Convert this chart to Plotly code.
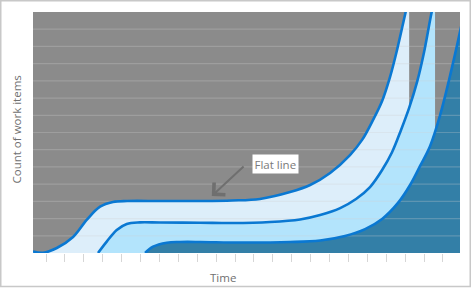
import plotly.graph_objects as go

# Time periods (x) and work-item counts (y) for the three cumulative bands
top_x = [-0.69, -0.16, 0.57, 1.43, 2.15, 2.86, 3.54, 4.29, 6.03, 8.15, 9.84, 11.32,
         12.91, 13.97, 15.03, 16.08, 16.72, 17.30, 17.78, 18.20, 18.57, 18.99, 19.21]
top_y = [0.09, 0.01, 0.29, 0.93, 1.92, 2.69, 2.96, 3.02, 3.02, 3.02, 3.05, 3.14,
         3.54, 3.95, 4.65, 5.69, 6.57, 7.73, 8.83, 10.23, 11.80, 13.83, 14.88]

mid_x = [2.75, 3.21, 3.74, 4.27, 4.97, 6.03, 8.15, 9.84, 11.85, 13.44, 14.50, 15.56,
         16.40, 17.14, 17.78, 18.31, 18.78, 19.21, 19.63, 20.00, 20.37, 20.58]
mid_y = [0.0, 0.66, 1.34, 1.69, 1.78, 1.77, 1.76, 1.74, 1.80, 1.95, 2.21, 2.61,
         3.14, 3.83, 4.82, 5.87, 7.15, 8.43, 9.94, 11.68, 13.83, 14.88]

low_x = [5.24, 5.66, 6.39, 7.09, 8.15, 10.26, 12.91, 14.50, 15.82, 16.88, 17.78, 18.62,
         19.26, 19.79, 20.32, 20.85, 21.32, 21.75, 22.06]
low_y = [0.0, 0.37, 0.60, 0.64, 0.64, 0.61, 0.64, 0.73, 0.99, 1.39, 1.98, 2.91,
         3.95, 5.06, 6.22, 8.02, 10.05, 12.09, 13.65]

x_range = [-0.69, 21.9]
y_range = [0, 14]
tick_positions = list(range(0, 22))
grid_levels = list(range(1, 14))

LINE = "#0a78d2"
fills = ["#ddeefa", "#b3e4fc", "#337fa7"]
SPLINE = dict(shape="spline", smoothing=1.0)

fig = go.Figure()

# stacked band fills, each painted down to the baseline
for xs, ys, col in [(top_x, top_y, fills[0]), (mid_x, mid_y, fills[1]), (low_x, low_y, fills[2])]:
    fig.add_trace(go.Scatter(x=xs, y=ys, mode="lines", line=dict(width=0, **SPLINE),
                             fill="tozeroy", fillcolor=col, hoverinfo="skip", showlegend=False))

# horizontal grid drawn over the bands
gx, gy = [], []
for g in grid_levels:
    gx += [x_range[0], x_range[1], None]
    gy += [g, g, None]
fig.add_trace(go.Scatter(x=gx, y=gy, mode="lines", line=dict(color="rgba(210,210,210,0.28)", width=1.2),
                         hoverinfo="skip", showlegend=False))

# band outlines
for xs, ys in [(top_x, top_y), (mid_x, mid_y), (low_x, low_y)]:
    fig.add_trace(go.Scatter(x=xs, y=ys, mode="lines",
                             line=dict(color=LINE, width=2.6, **SPLINE),
                             hoverinfo="skip", showlegend=False))

FONT = "Open Sans, Noto Sans, sans-serif"
TXT = "#707070"

fig.update_layout(
    width=472, height=288,
    margin=dict(l=33, r=12, t=12, b=35),
    paper_bgcolor="white", plot_bgcolor="#8b8b8b",
    font=dict(family=FONT, size=11.5, color=TXT),
    xaxis=dict(range=x_range, tickvals=tick_positions, showticklabels=False, ticks="outside",
               ticklen=8, tickwidth=1, tickcolor="#d6d6d6", showgrid=False, zeroline=False,
               showline=False, fixedrange=True),
    yaxis=dict(range=y_range, showticklabels=False, showgrid=False, zeroline=False,
               showline=False, ticks="", fixedrange=True),
    annotations=[
        dict(text="Time", xref="paper", yref="paper", x=(223 - 33) / 427, y=(253 - 277) / 241,
             xanchor="center", yanchor="middle", showarrow=False, font=dict(size=11.5, color=TXT)),
        dict(text="Count of work items", xref="paper", yref="paper", x=(16 - 33) / 427,
             y=(253 - 129.5) / 241, xanchor="center", yanchor="middle", textangle=-90,
             showarrow=False, font=dict(size=11.5, color=TXT)),
        dict(text="Flat line", xref="x", yref="y", x=12.12, y=5.17, xanchor="center",
             yanchor="middle", showarrow=False, bgcolor="white", borderpad=1.5,
             font=dict(size=11.5, color="#7a7a7a")),
        dict(text="", xref="x", yref="y", x=8.77, y=3.31, axref="x", ayref="y",
             ax=10.53, ay=5.11, showarrow=True, arrowhead=4, arrowsize=1.6, arrowwidth=2,
             arrowcolor="#6f6f6f"),
    ],
    shapes=[
        dict(type="rect", xref="paper", yref="paper", x0=(0.75 - 33) / 427, x1=(470.25 - 33) / 427,
             y0=(253 - 286.5) / 241, y1=(253 - 0.75) / 241, line=dict(color="#c8c8c8", width=1.5),
             layer="above"),
    ],
)

fig.write_html("out.html")
